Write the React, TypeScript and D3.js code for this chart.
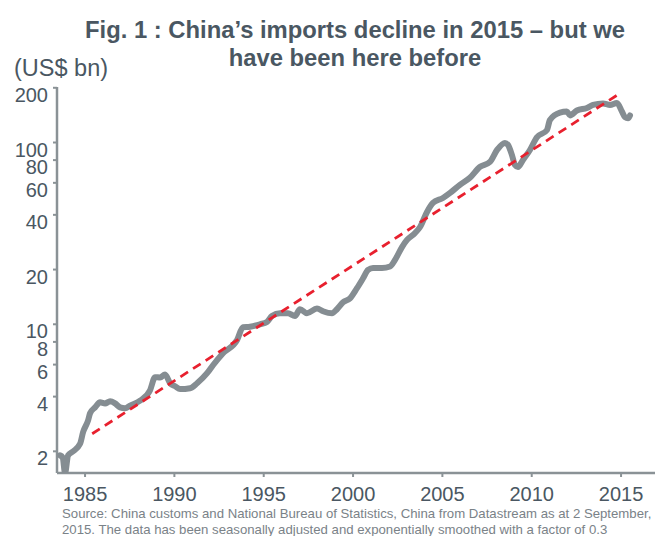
import React from 'react';
import * as d3 from 'd3';

// China monthly imports, US$ bn
const years = [
  1983.6, 1983.75, 1983.88, 1984.05, 1984.33, 1984.72, 1984.89, 1985.17, 1985.28, 1985.56,
  1985.84, 1986.12, 1986.4, 1986.68, 1986.96, 1987.24, 1987.52, 1988.08, 1988.64, 1988.92,
  1989.2, 1989.48, 1989.76, 1990.04, 1990.32, 1990.88, 1991.27, 1991.83, 1992.16, 1992.72,
  1993.51, 1993.84, 1994.23, 1994.79, 1995.18, 1995.46, 1995.91, 1996.36, 1996.75, 1997.03,
  1997.42, 1997.98, 1998.32, 1998.82, 1999.1, 1999.44, 1999.83, 2000.22, 2000.56, 2000.84,
  2001.12, 2001.62, 2002.07, 2002.35, 2002.74, 2003.02, 2003.47, 2003.75, 2004.14, 2004.47,
  2005.03, 2005.43, 2005.98, 2006.54, 2007.1, 2007.66, 2008.06, 2008.5, 2008.67, 2008.89,
  2009.06, 2009.23, 2009.51, 2009.9, 2010.29, 2010.85, 2011.02, 2011.58, 2011.97, 2012.14,
  2012.53, 2013.09, 2013.43, 2013.99, 2014.38, 2014.77, 2015.05, 2015.22, 2015.39, 2015.5,
];
const imports = [
  1.9, 1.85, 1.52, 1.9, 2.0, 2.2, 2.55, 2.96, 3.24, 3.49,
  3.72, 3.67, 3.77, 3.67, 3.49, 3.45, 3.57, 3.8, 4.34, 5.12,
  5.1, 5.3, 4.74, 4.56, 4.4, 4.45, 4.74, 5.38, 5.95, 6.93,
  8.2, 9.64, 9.7, 10.0, 10.3, 11.1, 11.5, 11.5, 11.1, 12.1,
  11.5, 12.2, 11.8, 11.5, 12.1, 13.2, 13.9, 15.8, 17.9, 19.9,
  20.4, 20.4, 20.8, 22.6, 26.6, 29.1, 31.8, 34.3, 41.5, 46.5,
  49.5, 52.8, 58.5, 63.9, 73.4, 78.2, 91.0, 99.5, 97, 85.5,
  75.3, 73.4, 80.2, 91, 107, 117, 133, 146, 148, 141,
  150, 155, 161, 164, 161, 165, 148, 138, 136, 141,
];

// log-linear trend, endpoints
const trendYears = [1985.4, 2015.0];
const trendValues = [2.5, 188];

const xTicks = [1985, 1990, 1995, 2000, 2005, 2010, 2015];
const yTicks = [2, 4, 6, 8, 10, 20, 40, 60, 80, 100, 200];

const titleLines = ['Fig. 1 : China\u2019s imports decline in 2015 \u2013 but we', 'have been here before'];
const sourceLines = [
  'Source:  China customs and National Bureau of Statistics, China from Datastream as at 2 September,',
  '2015.  The data has been seasonally adjusted and exponentially smoothed with a factor of 0.3',
];

const W = 658;
const H = 536;
const font = '"Liberation Sans", Arial, sans-serif';
const textColor = '#4a5762';
const axisColor = '#8a9296';

export default function App() {
  const left = 57;
  const right = 655;
  const top = 87;
  const bottom = 473;

  const x = d3.scaleLinear().domain([1983.43, 2016.9]).range([left, right]);
  const y = d3.scaleLog().domain([1.52, 202]).range([bottom, top]);

  const pts = years.map((yr, i) => [yr, imports[i]] as [number, number]);
  const line = d3.line<[number, number]>()
    .x(d => x(d[0]))
    .y(d => y(d[1]))
    .curve(d3.curveMonotoneX);

  const trend = trendYears.map((yr, i) => [yr, trendValues[i]] as [number, number]);
  const trendLine = d3.line<[number, number]>().x(d => x(d[0])).y(d => y(d[1]));

  return (
    <svg width={W} height={H} style={{ display: 'block', position: 'absolute', left: 0, top: 0 }}>
      <rect width={W} height={H} fill="#fff" />
      <defs>
        <clipPath id="plot">
          <rect x={left} y={top - 10} width={right - left} height={bottom - top + 10} />
        </clipPath>
      </defs>

      {/* Title */}
      {titleLines.map((t, i) => (
        <text key={i} x={355} y={38 + i * 28} textAnchor="middle" fontFamily={font}
          fontWeight="bold" fontSize={23.8} fill={textColor}>{t}</text>
      ))}
      <text x={14} y={76} fontFamily={font} fontSize={23.5} fill={textColor}>(US$ bn)</text>

      {/* Y axis */}
      <line x1={left} x2={left} y1={top} y2={bottom} stroke={axisColor} strokeWidth={2.5} />
      {yTicks.map(t => (
        <g key={t}>
          <line x1={left - 4} x2={left} y1={y(t)} y2={y(t)} stroke={axisColor} strokeWidth={2} />
          <text x={48} y={y(t) + 14} textAnchor="end" fontFamily={font} fontSize={20} fill={textColor}>{t}</text>
        </g>
      ))}

      {/* X axis */}
      <line x1={left} x2={right} y1={bottom} y2={bottom} stroke={axisColor} strokeWidth={2.5} />
      {xTicks.map(t => (
        <g key={t}>
          <line x1={x(t)} x2={x(t)} y1={bottom} y2={bottom + 4} stroke={axisColor} strokeWidth={2} />
          <text x={x(t)} y={501} textAnchor="middle" fontFamily={font} fontSize={20} fill={textColor}>{t}</text>
        </g>
      ))}

      {/* Series */}
      <g clipPath="url(#plot)">
        <path d={line(pts) ?? ''} fill="none" stroke="#858d92" strokeWidth={6}
          strokeLinejoin="round" strokeLinecap="round" />
      </g>
      <path d={trendLine(trend) ?? ''} fill="none" stroke="#e8202e" strokeWidth={2.8}
        strokeDasharray="9,6" />

      {/* Source */}
      {sourceLines.map((t, i) => (
        <text key={i} x={62} y={518 + i * 16} fontFamily={font} fontSize={13.2} fill="#7a8288">{t}</text>
      ))}
    </svg>
  );
}
